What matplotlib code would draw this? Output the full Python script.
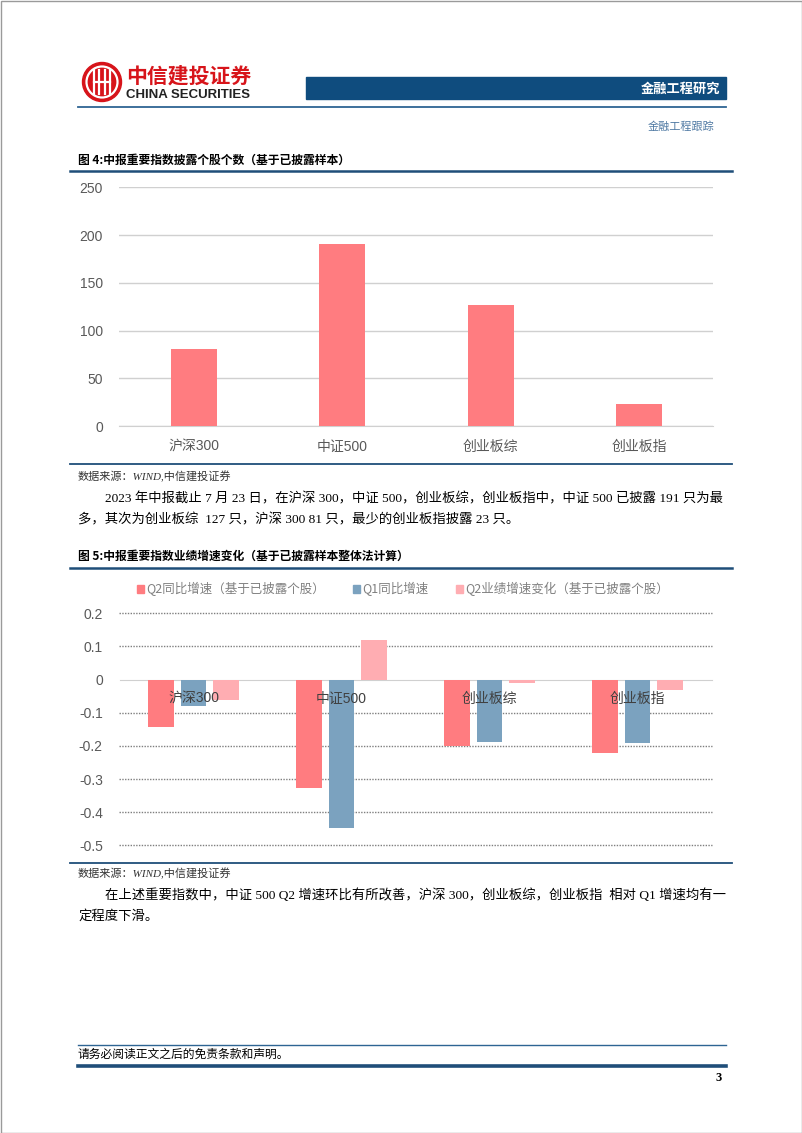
import numpy as np
import matplotlib
matplotlib.use("Agg")
import matplotlib.pyplot as plt
from matplotlib.patches import Rectangle, Circle, Patch

plt.rcParams['font.family'] = ['Liberation Sans', 'Noto Sans CJK SC', 'DejaVu Sans']

# ---- data ----
indices = ['沪深300', '中证500', '创业板综', '创业板指']
disclosed_counts = [81, 191, 127, 23]

q2_growth = [-0.143, -0.328, -0.199, -0.223]
q1_growth = [-0.080, -0.449, -0.189, -0.191]
q2_change = [-0.062, 0.120, -0.009, -0.032]
growth_labels = ['Q2同比增速（基于已披露个股）', 'Q1同比增速', 'Q2业绩增速变化（基于已披露个股）']

count_ticks = [0, 50, 100, 150, 200, 250]
growth_ticks = [-0.5, -0.4, -0.3, -0.2, -0.1, 0, 0.1, 0.2]

PINK = '#FF7C80'
BLUE = '#7BA2BF'
LIGHT_PINK = '#FFADB2'
NAVY = '#1F4E79'
W, H = 802, 1133

fig = plt.figure(figsize=(W / 100, H / 100), dpi=100)

# page layer in pixel coordinates
page = fig.add_axes([0, 0, 1, 1])
page.set_xlim(0, W)
page.set_ylim(H, 0)
page.axis('off')

SERIF = ['Liberation Serif', 'Noto Sans CJK SC']
CJK = ['Noto Sans CJK SC', 'DejaVu Sans']

# border
page.add_patch(Rectangle((0.5, 0.5), W - 1, H - 1, fill=False, ec='#9A9A9A', lw=1))

# header logo
page.add_patch(Circle((102, 82), 19.5, color='#D7141A'))
page.add_patch(Circle((102, 82), 15.5, fill=False, ec='white', lw=1.6))
for dx in (-8, -3, 3, 8):
    page.plot([102 + dx, 102 + dx], [70, 94], color='white', lw=1.6)
page.plot([94, 110], [82, 82], color='white', lw=1.6)
page.text(126, 76, '中信建投证券', family=CJK, fontsize=15, fontweight='bold',
          color='#D7141A', va='center', ha='left')
page.text(126, 95, 'CHINA SECURITIES', family=['Liberation Sans'], fontsize=9.5,
          fontweight='bold', color='#222222', va='center', ha='left')

page.add_patch(Rectangle((306, 77), 420, 22, color='#0F4C7E'))
page.text(720, 89, '金融工程研究', family=CJK, fontsize=9.5, fontweight='bold',
          color='white', va='center', ha='right')
page.plot([78, 726], [107.3, 107.3], color='#2E6593', lw=1.3)
page.text(714, 127, '金融工程跟踪', family=CJK, fontsize=8, color='#4F79A3',
          va='center', ha='right')

# figure 4 frame
page.text(78, 160, '图 4:中报重要指数披露个股个数（基于已披露样本）', family=CJK,
          fontsize=8.5, fontweight='bold', color='black', va='center')
page.plot([70, 732], [170.5, 170.5], color=NAVY, lw=1.8)
page.plot([70, 732], [464, 464], color=NAVY, lw=1.3)
page.text(78, 477, '数据来源：WIND,中信建投证券', family=SERIF, fontsize=8,
          style='italic', color='#333333', va='center')
page.text(105, 498.5, '2023 年中报截止 7 月 23 日，在沪深 300，中证 500，创业板综，创业板指中，中证 500 已披露 191 只为最',
          family=SERIF, fontsize=9.6, color='black', va='center')
page.text(78, 519.5, '多，其次为创业板综  127 只，沪深 300 81 只，最少的创业板指披露 23 只。',
          family=SERIF, fontsize=9.6, color='black', va='center')

# figure 5 frame
page.text(78, 556.5, '图 5:中报重要指数业绩增速变化（基于已披露样本整体法计算）', family=CJK,
          fontsize=8.5, fontweight='bold', color='black', va='center')
page.plot([70, 732], [567.5, 567.5], color=NAVY, lw=1.8)
page.plot([70, 732], [862.7, 862.7], color=NAVY, lw=1.3)
page.text(78, 874, '数据来源：WIND,中信建投证券', family=SERIF, fontsize=8,
          style='italic', color='#333333', va='center')
page.text(105, 895, '在上述重要指数中，中证 500 Q2 增速环比有所改善，沪深 300，创业板综，创业板指  相对 Q1 增速均有一',
          family=SERIF, fontsize=9.6, color='black', va='center')
page.text(78, 916.5, '定程度下滑。', family=SERIF, fontsize=9.6, color='black', va='center')

# footer
page.plot([78, 726], [1045, 1045], color='#2E6593', lw=1)
page.text(78, 1055, '请务必阅读正文之后的免责条款和声明。', family=SERIF, fontsize=8.5,
          color='black', va='center')
page.plot([78, 726], [1065.7, 1065.7], color=NAVY, lw=2.6)
page.text(722, 1078, '3', family=SERIF, fontsize=9, fontweight='bold', color='black',
          va='center', ha='right')


def px_axes(left, top, right, bottom):
    return fig.add_axes([left / W, 1 - bottom / H, (right - left) / W, (bottom - top) / H])


# ---- chart 1: disclosed counts ----
ax1 = px_axes(119.5, 187.3, 713.2, 426)
x = np.arange(len(indices))
ax1.bar(x, disclosed_counts, width=0.31, color=PINK, zorder=3)
ax1.set_xlim(-0.5, len(indices) - 0.5)
ax1.set_ylim(0, 250)
ax1.set_yticks(count_ticks)
ax1.set_xticks(x)
ax1.set_xticklabels(indices)
ax1.grid(axis='y', color='#D0D0D0', lw=1, zorder=0)
for s in ['top', 'right', 'left']:
    ax1.spines[s].set_visible(False)
ax1.spines['bottom'].set_color('#D0D0D0')
ax1.tick_params(axis='both', length=0, colors='#595959', labelsize=10)
ax1.tick_params(axis='y', pad=12)
ax1.tick_params(axis='x', pad=10)
ax1.patch.set_alpha(0)

# ---- chart 2: growth ----
ax2 = px_axes(119.5, 613.3, 711.5, 845.3)
bw = 0.175
step = 0.22
ax2.bar(x - step, q2_growth, width=bw, color=PINK, zorder=3, label=growth_labels[0])
ax2.bar(x, q1_growth, width=bw, color=BLUE, zorder=3, label=growth_labels[1])
ax2.bar(x + step, q2_change, width=bw, color=LIGHT_PINK, zorder=3, label=growth_labels[2])
ax2.set_xlim(-0.5, len(indices) - 0.5)
ax2.set_ylim(-0.5, 0.2)
ax2.set_yticks(growth_ticks)
ax2.set_yticklabels(['-0.5', '-0.4', '-0.3', '-0.2', '-0.1', '0', '0.1', '0.2'])
ax2.set_xticks(x)
ax2.set_xticklabels(indices)
for t in growth_ticks:
    if t != 0:
        ax2.axhline(t, color='#7F7F7F', lw=1, ls=(0, (1, 1)), zorder=0, clip_on=False)
for s in ['top', 'right', 'left']:
    ax2.spines[s].set_visible(False)
ax2.spines['bottom'].set_position(('data', 0))
ax2.spines['bottom'].set_color('#D0D0D0')
ax2.spines['bottom'].set_zorder(2)
ax2.tick_params(axis='both', length=0, colors='#595959', labelsize=10)
ax2.tick_params(axis='y', pad=12)
ax2.tick_params(axis='x', pad=9, labelcolor='#404040')
# category names sit on top of the bars, like the Excel original
ax2.xaxis.set_zorder(5)
ax2.patch.set_alpha(0)

handles = [Patch(color=c) for c in (PINK, BLUE, LIGHT_PINK)]
leg = fig.legend(handles, growth_labels, loc='center', ncol=3,
                 bbox_to_anchor=(403 / W, 1 - 589.3 / H), frameon=False,
                 handlelength=0.55, handleheight=0.55, handletextpad=0.2,
                 columnspacing=2.2, prop={'family': CJK, 'size': 9})
for t in leg.get_texts():
    t.set_color('#808080')

fig.savefig('out.png', dpi=100, facecolor='white')
